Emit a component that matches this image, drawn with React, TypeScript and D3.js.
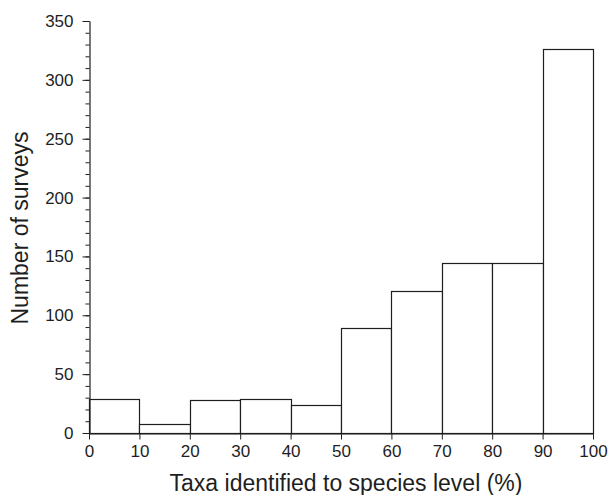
import React, { useEffect, useRef } from "react";
import * as d3 from "d3";

const binStarts = [0, 10, 20, 30, 40, 50, 60, 70, 80, 90];
const binWidth = 10;
const counts = [29, 8, 28, 29, 24, 89, 121, 144, 144, 326];
const xTicks = [0, 10, 20, 30, 40, 50, 60, 70, 80, 90, 100];
const yMajorTicks = [0, 50, 100, 150, 200, 250, 300, 350];
const yMinorTicks = d3.range(0, 351, 10);
const xTitle = "Taxa identified to species level (%)";
const yTitle = "Number of surveys";

const W = 611;
const H = 495;
const FONT = "'Liberation Sans', Arial, Helvetica, sans-serif";
const INK = "#1e1e1e";

export default function App() {
  const ref = useRef<SVGSVGElement | null>(null);

  useEffect(() => {
    const svg = d3.select(ref.current);
    svg.selectAll("*").remove();

    const x = d3.scaleLinear().domain([0, 100]).range([89, 593]);
    const y = d3.scaleLinear().domain([0, 350]).range([433, 21]);

    // bars
    svg
      .append("g")
      .selectAll("rect")
      .data(binStarts.map((s, i) => ({ s, c: counts[i] })))
      .join("rect")
      .attr("x", (d) => Math.round(x(d.s)) + 0.5)
      .attr("y", (d) => Math.round(y(d.c)) + 0.5)
      .attr("width", (d) => Math.round(x(d.s + binWidth)) - Math.round(x(d.s)))
      .attr("height", (d) => Math.round(y(0)) - Math.round(y(d.c)))
      .attr("fill", "white")
      .attr("stroke", INK)
      .attr("stroke-width", 1.2);

    // y axis minor
    const gyMinor = svg
      .append("g")
      .attr("transform", `translate(${Math.round(x(0)) + 0.5},0)`)
      .call(
        d3
          .axisLeft(y)
          .tickValues(yMinorTicks)
          .tickSize(4)
          .tickFormat(() => "")
      );
    gyMinor.select(".domain").remove();
    gyMinor.selectAll("line").attr("stroke", INK).attr("stroke-width", 1);

    const gy = svg
      .append("g")
      .attr("transform", `translate(${Math.round(x(0)) + 0.5},0)`)
      .call(
        d3
          .axisLeft(y)
          .tickValues(yMajorTicks)
          .tickSize(7)
          .tickSizeOuter(0)
          .tickPadding(9)
          .tickFormat(d3.format("d"))
      );
    gy.select(".domain").attr("stroke", INK).attr("stroke-width", 1.2);
    gy.selectAll("line").attr("stroke", INK).attr("stroke-width", 1);
    gy.selectAll("text")
      .attr("font-family", FONT)
      .attr("font-size", 17)
      .attr("fill", INK);

    // x axis
    const gx = svg
      .append("g")
      .attr("transform", `translate(0,${Math.round(y(0)) + 0.5})`)
      .call(
        d3
          .axisBottom(x)
          .tickValues(xTicks)
          .tickSize(6)
          .tickSizeOuter(0)
          .tickPadding(5)
          .tickFormat(d3.format("d"))
      );
    gx.select(".domain").attr("stroke", INK).attr("stroke-width", 1.2);
    gx.selectAll("line").attr("stroke", INK).attr("stroke-width", 1);
    gx.selectAll("text")
      .attr("font-family", FONT)
      .attr("font-size", 17)
      .attr("fill", INK);

    // titles
    svg
      .append("text")
      .attr("x", (170 + 522) / 2)
      .attr("y", 491)
      .attr("text-anchor", "middle")
      .attr("font-family", FONT)
      .attr("font-size", 23)
      .attr("fill", INK)
      .text(xTitle);

    svg
      .append("text")
      .attr("transform", `translate(28,228) rotate(-90)`)
      .attr("text-anchor", "middle")
      .attr("font-family", FONT)
      .attr("font-size", 23)
      .attr("fill", INK)
      .text(yTitle);
  }, []);

  return (
    <svg
      ref={ref}
      width={W}
      height={H}
      style={{ position: "absolute", left: 0, top: 0, display: "block", background: "white" }}
    />
  );
}
